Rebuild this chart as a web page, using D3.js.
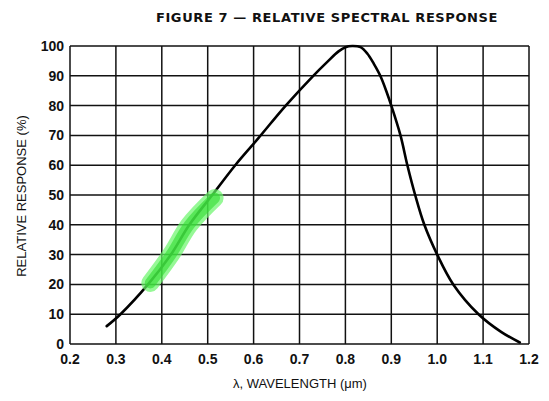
<!DOCTYPE html>
<html><head><meta charset="utf-8">
<script src="https://cdn.jsdelivr.net/npm/d3@7"></script>
<style>body{margin:0;background:#fff}svg{display:block}</style>
</head><body>
<svg id="c" width="549" height="401"></svg>
<script>
const title = "FIGURE 7 — RELATIVE SPECTRAL RESPONSE";
const xLabel = "λ, WAVELENGTH (μm)";
const yLabel = "RELATIVE RESPONSE (%)";
const xTicks = [0.2,0.3,0.4,0.5,0.6,0.7,0.8,0.9,1.0,1.1,1.2];
const xTickLabels = ["0.2","0.3","0.4","0.5","0.6","0.7","0.8","0.9","1.0","1.1","1.2"];
const yTicks = [0,10,20,30,40,50,60,70,80,90,100];
const wavelength = [0.28,0.31,0.37,0.42,0.46,0.51,0.56,0.61,0.67,0.73,0.76,0.785,0.80,0.815,0.833,0.848,0.862,0.876,0.89,0.90,0.92,0.935,0.952,0.972,1.0,1.035,1.09,1.14,1.18];
const response   = [6,10,20,30,40,50,60,69,80,90,94.6,98.2,99.6,100,99.6,97.4,94,90,84.5,80,70,60,50,40,30,20,10,4,0.5];
const highlightWave = [0.375,0.42,0.46,0.515];
const highlightResp = [20.5,30,40,49];

const svg = d3.select("#c");
const m = {l:70, r:20, t:46, b:57};
const W = 549, H = 401;
const x = d3.scaleLinear().domain([0.2,1.2]).range([m.l, W-m.r]);
const y = d3.scaleLinear().domain([0,100]).range([H-m.b, m.t]);

const grid = svg.append("g").attr("stroke","#111").attr("stroke-width",1.5);
grid.selectAll(".vx").data(xTicks).join("line")
  .attr("x1",d=>x(d)).attr("x2",d=>x(d)).attr("y1",y(0)).attr("y2",y(100));
grid.selectAll(".hy").data(yTicks).join("line")
  .attr("x1",x(0.2)).attr("x2",x(1.2)).attr("y1",d=>y(d)).attr("y2",d=>y(d));

const font = "'Liberation Sans Narrow','Arial Narrow','Liberation Sans',sans-serif";
svg.append("g").selectAll("text").data(yTicks).join("text")
  .attr("x", x(0.2)-6).attr("y", d=>y(d)+5)
  .attr("text-anchor","end").attr("font-family",font).attr("font-weight","bold")
  .attr("font-size",14).attr("fill","#111").text(d=>d);
svg.append("g").selectAll("text").data(xTicks).join("text")
  .attr("x", d=>x(d)).attr("y", y(0)+20)
  .attr("text-anchor","middle").attr("font-family",font).attr("font-weight","bold")
  .attr("font-size",14).attr("fill","#111").text((d,i)=>xTickLabels[i]);

const pts = wavelength.map((w,i)=>[w,response[i]]);
const line = d3.line().x(d=>x(d[0])).y(d=>y(d[1])).curve(d3.curveCatmullRom.alpha(0.5));
svg.append("path").datum(pts).attr("d",line).attr("fill","none")
  .attr("stroke","#000").attr("stroke-width",2.6).attr("stroke-linecap","round");

// highlighter mark along the curve
const hlPts = highlightWave.map((w,i)=>[w,highlightResp[i]]);
const hlLine = d3.line().x(d=>x(d[0])).y(d=>y(d[1])).curve(d3.curveCatmullRom);
svg.append("path").datum(hlPts).attr("d",hlLine)
  .attr("fill","none").attr("stroke","#6af56a").attr("stroke-opacity",0.7)
  .attr("stroke-width",18).attr("stroke-linecap","round");
svg.append("path").datum(hlPts).attr("d",hlLine)
  .attr("fill","none").attr("stroke","#2fdc2f").attr("stroke-opacity",0.6)
  .attr("stroke-width",11).attr("stroke-linecap","round");

svg.append("text").attr("x",327).attr("y",22).attr("text-anchor","middle")
  .attr("font-family","'DejaVu Sans',sans-serif").attr("font-weight","bold")
  .attr("font-size",13).attr("letter-spacing",0.6).attr("fill","#111").text(title);
svg.append("text").attr("x",300).attr("y",388).attr("text-anchor","middle")
  .attr("font-family","'Liberation Sans',sans-serif").attr("font-size",13).attr("fill","#111").text(xLabel);
svg.append("text").attr("transform","translate(26,196) rotate(-90)").attr("text-anchor","middle")
  .attr("font-family","'Liberation Sans',sans-serif").attr("font-size",13).attr("fill","#111").text(yLabel);
</script>
</body></html>
